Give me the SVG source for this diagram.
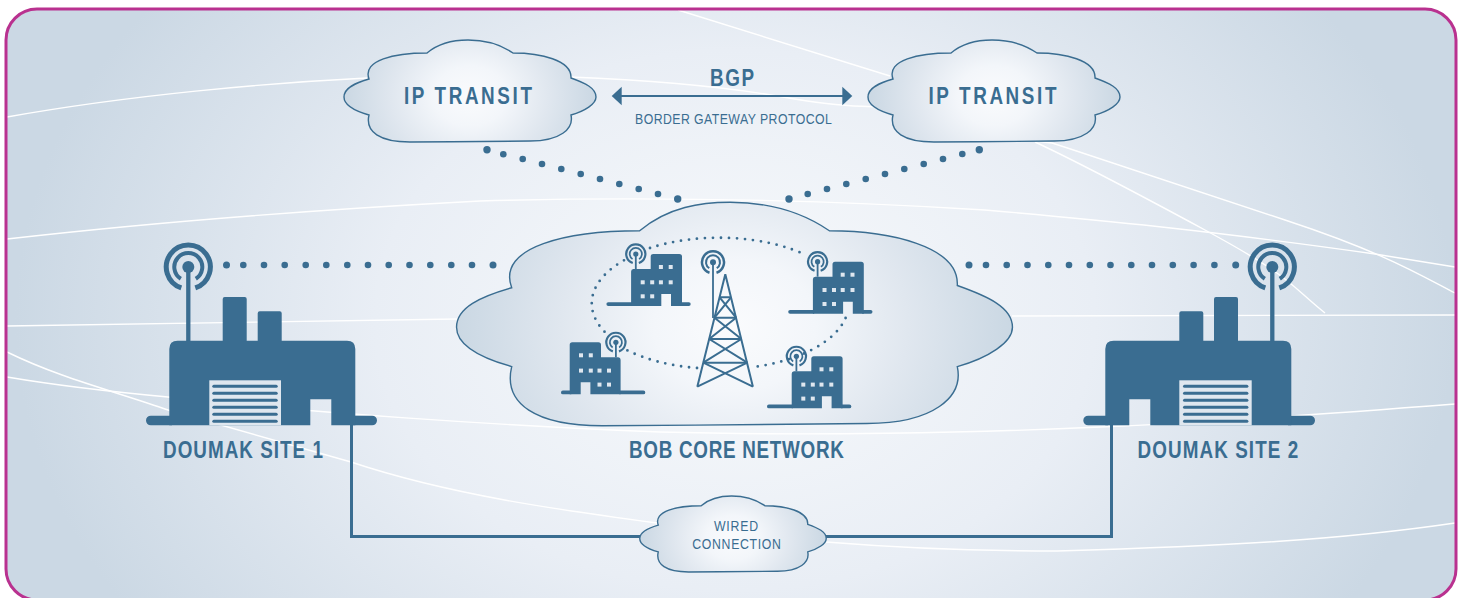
<svg xmlns="http://www.w3.org/2000/svg" width="1465" height="598" viewBox="0 0 1465 598">
<style>
.ln{fill:none;stroke:#fff;stroke-width:1.4}
.cl{fill:url(#cg)}
.b{fill:#3a6d91}
.l{fill:#dfe7ef}
.d{fill:#3a6d91}
.t{font-family:"Liberation Sans",Arial,sans-serif;fill:#3a6d91}
.h{font-size:23px;font-weight:700}
.s{font-size:15px}
.w{fill:none;stroke:#3a6d91;stroke-width:3}
.tw{fill:none;stroke:#3a6d91;stroke-width:2;stroke-linejoin:miter}
.dots{fill:none;stroke:#3a6d91;stroke-width:2.8;stroke-linecap:round;stroke-dasharray:0 8}
</style>
<defs>
<radialGradient id="bg" gradientUnits="userSpaceOnUse" cx="0" cy="0" r="1" gradientTransform="translate(735 320) scale(720 540)">
<stop offset="0" stop-color="#f8fafc"/><stop offset=".5" stop-color="#e9eef5"/><stop offset="1" stop-color="#cbd8e4"/>
</radialGradient>
<radialGradient id="cg" cx="0" cy="0" r="1" gradientTransform="translate(.5 .55) scale(.52 1.05)">
<stop offset="0" stop-color="#fafbfd"/><stop offset=".28" stop-color="#f3f6fa"/><stop offset=".6" stop-color="#e0e7ef"/><stop offset="1" stop-color="#c8d6e2"/>
</radialGradient>
<path id="cloud" vector-effect="non-scaling-stroke" stroke="#3a6d91" stroke-width="1.4" d="M-43 -38C-30 -49 -15 -51 -2 -51C15 -51 30 -47 43 -38C70 -38 102 -31 101 -13C115 -8 126 -3 126 6C126 13 115 20 101 24C104 38 90 50 60 50C30 50 -20 51 -60 51C-90 51 -105 41 -101 24C-115 20 -126 14 -126 6C-126 -3 -115 -8 -101 -12C-108 -31 -75 -38 -43 -38Z"/>
<g id="radio">
<path d="M-7 20.900A22 22 0 1 1 7 20.900" fill="none" stroke="#3a6d91" stroke-width="5"/>
<path d="M-7.500 11.800A14 14 0 1 1 7.500 11.800" fill="none" stroke="#3a6d91" stroke-width="4"/>
<circle r="6" class="b"/>
</g>
<g id="bld">
<path class="b" d="M1.900 -3.800H26V0H1.900A1.900 1.900 0 0 1 1.900 -3.800Z"/>
<path class="b" d="M74 -3.800H82.400A1.900 1.900 0 0 1 82.400 0H74Z"/>
<path class="b" d="M24.700 0V-34.500Q24.700 -37 27 -37H44.300V-49.500Q44.300 -52 46.800 -52H73Q75.600 -52 75.600 -49.500V0H64.600V-12H54.900V0Z"/>
<g class="l">
<rect x="52.500" y="-41" width="4" height="4"/><rect x="62.300" y="-41" width="4" height="4"/>
<rect x="34.300" y="-25.700" width="4" height="4"/><rect x="43.800" y="-25.700" width="4" height="4"/><rect x="52.500" y="-25.700" width="4" height="4"/><rect x="62.300" y="-25.700" width="4" height="4"/>
<rect x="34.300" y="-11.700" width="4" height="4"/><rect x="43.800" y="-11.700" width="4" height="4"/>
</g>
<path d="M29.400 -52V-37" stroke="#3a6d91" stroke-width="1.800" fill="none"/>
<use href="#radio" transform="translate(29.400 -52) scale(.435)"/>
</g>
<g id="slats" class="b">
<rect x="0" y="0" width="65.400" height="3" rx="1.500"/><rect x="0" y="7" width="65.400" height="3" rx="1.500"/><rect x="0" y="14" width="65.400" height="3" rx="1.500"/><rect x="0" y="21" width="65.400" height="3" rx="1.500"/><rect x="0" y="28" width="65.400" height="3" rx="1.500"/><rect x="0" y="35" width="65.400" height="3" rx="1.500"/>
</g>
</defs>
<rect width="1465" height="598" fill="#fff"/>
<rect x="6" y="9" width="1450" height="591" rx="31" fill="url(#bg)"/>
<g id="background-lines">
<path class="ln" d="M7 117C130 95 267 83 367 78"/>
<path class="ln" d="M570 77C620 79 710 84 783 97S860 104 883 108"/>
<path class="ln" d="M678 10L890 76"/>
<path class="ln" d="M1035 141L1052 143C1120 165 1185 187 1285 220S1420 275 1455 293"/>
<path class="ln" d="M1035 142C1080 163 1118 183 1205 230S1290 285 1325 313"/>
<path class="ln" d="M7 239C200 217 367 207 480 201C620 197 793 198 985 210C1100 220 1205 230 1375 254L1455 267"/>
<path class="ln" d="M7 326L457 319"/>
<path class="ln" d="M1012 316L1455 315"/>
<path class="ln" d="M7 352C60 378 114 391 168 410L351 462C450 495 560 510 657 523"/>
<path class="ln" d="M826 542C900 548 980 551 1057 551C1226 546 1340 540 1455 523"/>
<path class="ln" d="M7 377C60 386 114 392 168 397C300 412 505 426 660 432C805 436 973 433 1100 427C1200 423 1314 415 1455 404"/>
</g>
<rect x="6" y="9" width="1450" height="591" rx="31" fill="none" stroke="#b9318f" stroke-width="3"/>
<g id="connectors">
<path class="w" d="M351.500 425V536.500H640"/>
<path class="w" d="M826 536.500H1111.500V425"/>
<path d="M621 96H843" stroke="#3a6d91" stroke-width="2" fill="none"/>
<path class="b" d="M611.700 96L621.700 86.700V105.300Z"/>
<path class="b" d="M852.300 96L842.300 86.700V105.300Z"/>
<g class="d">
<circle cx="226.500" cy="265" r="3.500"/><circle cx="243.300" cy="265" r="3.300"/><circle cx="264" cy="265" r="3.300"/><circle cx="284.700" cy="265" r="3.300"/><circle cx="305.700" cy="265" r="3.300"/><circle cx="326.300" cy="265" r="3.300"/><circle cx="347.300" cy="265" r="3.300"/><circle cx="368" cy="265" r="3.300"/><circle cx="388.700" cy="265" r="3.300"/><circle cx="409.500" cy="265" r="3.300"/><circle cx="430.300" cy="265" r="3.300"/><circle cx="451.300" cy="265" r="3.300"/><circle cx="472" cy="265" r="3.300"/><circle cx="493" cy="265" r="3.500"/>
<circle cx="969" cy="265" r="3.500"/><circle cx="986" cy="265" r="3.300"/><circle cx="1006.700" cy="265" r="3.300"/><circle cx="1027.500" cy="265" r="3.300"/><circle cx="1048.300" cy="265" r="3.300"/><circle cx="1069" cy="265" r="3.300"/><circle cx="1089.800" cy="265" r="3.300"/><circle cx="1110.500" cy="265" r="3.300"/><circle cx="1131.300" cy="265" r="3.300"/><circle cx="1152" cy="265" r="3.300"/><circle cx="1172.800" cy="265" r="3.300"/><circle cx="1193.600" cy="265" r="3.300"/><circle cx="1214.400" cy="265" r="3.300"/><circle cx="1235.700" cy="265" r="3.500"/>
<circle cx="487" cy="149.700" r="3.700"/><circle cx="503.300" cy="154.300" r="3.300"/><circle cx="522.700" cy="159" r="3.300"/><circle cx="542" cy="164" r="3.300"/><circle cx="561.300" cy="169" r="3.300"/><circle cx="580.700" cy="174" r="3.300"/><circle cx="600" cy="179" r="3.300"/><circle cx="619.300" cy="184" r="3.300"/><circle cx="638.700" cy="189" r="3.300"/><circle cx="658" cy="194" r="3.300"/><circle cx="677.700" cy="199" r="3.700"/>
<circle cx="789" cy="199" r="3.700"/><circle cx="807.700" cy="194" r="3.300"/><circle cx="827" cy="189" r="3.300"/><circle cx="846.300" cy="184" r="3.300"/><circle cx="865.700" cy="179" r="3.300"/><circle cx="885" cy="174" r="3.300"/><circle cx="904.300" cy="169" r="3.300"/><circle cx="923.700" cy="164" r="3.300"/><circle cx="943" cy="159" r="3.300"/><circle cx="962.300" cy="154" r="3.300"/><circle cx="979.300" cy="149.700" r="3.700"/>
</g>
</g>
<g id="cloud-transit-1"><use href="#cloud" class="cl" transform="translate(470 91)"/><text class="t h" transform="translate(404 104) scale(.82 1)" textLength="156">IP TRANSIT</text></g>
<g id="cloud-transit-2"><use href="#cloud" class="cl" transform="translate(928.500 104) translate(65.500 -13)"/><text class="t h" transform="translate(928.500 104) scale(.82 1)" textLength="156">IP TRANSIT</text></g>
<g id="bgp-label"><text class="t h" transform="translate(710 86) scale(.82 1)" textLength="53.700">BGP</text><text class="t s" transform="translate(635 124.300) scale(.82 1)" textLength="240">BORDER GATEWAY PROTOCOL</text></g>
<g id="cloud-core">
<use href="#cloud" class="cl" transform="translate(734.500 314) scale(2.206 2.190)"/>
<path class="dots" d="M650 248A128 65 0 0 1 806 255"/>
<path class="dots" d="M845.600 318A128 65 0 0 1 753.600 367"/>
<path class="dots" d="M697 368A128 65 0 0 1 624.500 349"/>
<path class="dots" d="M604.500 331.700A128 65 0 0 1 624.500 260"/>
<g id="tower">
<path class="tw" d="M697.300 386.700L725.300 274.300L752.900 386.700"/>
<path class="tw" d="M719.600 297.300H731M714.500 317.700H736.100M709.200 339H741.400M703.300 362.700H747.300"/>
<path class="tw" d="M719.600 297.300L736.100 317.700M731 297.300L714.500 317.700M714.500 317.700L741.400 339M736.100 317.700L709.200 339M709.200 339L747.300 362.700M741.400 339L703.300 362.700M703.300 362.700L752.900 386.700M747.300 362.700L697.300 386.700"/>
<path d="M713 262V318" stroke="#3a6d91" stroke-width="1.800" fill="none"/>
<use href="#radio" transform="translate(713 262.300) scale(.5)"/>
</g>
<use id="bld-1" href="#bld" transform="translate(606.400 306)"/>
<use id="bld-2" href="#bld" transform="translate(788.200 313.700)"/>
<use id="bld-3" href="#bld" transform="translate(767 408.300)"/>
<use id="bld-4" href="#bld" transform="translate(645.300 394.300) scale(-1 1)"/>
<text class="t h" transform="translate(629 457.500) scale(.82 1)" textLength="262">BOB CORE NETWORK</text>
</g>
<g id="site-1">
<path d="M188.300 267V342" stroke="#3a6d91" stroke-width="4.300" fill="none"/>
<use href="#radio" transform="translate(188.300 267)"/>
<path class="b" d="M150.800 415.700H172V425.300H150.800A4.800 4.800 0 0 1 150.800 415.700Z"/>
<path class="b" d="M352 415.700H372.200A4.800 4.800 0 0 1 372.200 425.300H352Z"/>
<path class="b" d="M169.300 425.300V349Q169.300 340.700 177.600 340.700H222.700V299Q222.700 297 224.700 297H244.700Q246.700 297 246.700 299V340.700H257.700V313.300Q257.700 311.300 259.700 311.300H279.700Q281.700 311.300 281.700 313.300V340.700H347Q355.300 340.700 355.300 349V425.300H331.300V399.300H310.300V425.300Z"/>
<rect x="209.300" y="380.300" width="71.700" height="45" class="l"/>
<use href="#slats" transform="translate(212.300 384.800)"/>
<text class="t h" transform="translate(163 458.300) scale(.82 1)" textLength="195">DOUMAK SITE 1</text>
</g>
<g id="site-2">
<path d="M1272.300 267V342" stroke="#3a6d91" stroke-width="4.300" fill="none"/>
<use href="#radio" transform="translate(1272.300 267)"/>
<path class="b" d="M1088.100 415.700H1108V425.300H1088.100A4.800 4.800 0 0 1 1088.100 415.700Z"/>
<path class="b" d="M1288 415.700H1310.200A4.800 4.800 0 0 1 1310.200 425.300H1288Z"/>
<path class="b" d="M1105.300 425.300V349Q1105.300 340.700 1113.600 340.700H1179.300V313.300Q1179.300 311.300 1181.300 311.300H1201.300Q1203.300 311.300 1203.300 313.300V340.700H1214V299Q1214 297 1216 297H1236Q1238 297 1238 299V340.700H1283Q1291.300 340.700 1291.300 349V425.300H1150.300V399.300H1129.300V425.300Z"/>
<rect x="1179.300" y="380.300" width="72.400" height="45" class="l"/>
<use href="#slats" transform="translate(1183 384.800)"/>
<text class="t h" transform="translate(1137.500 458.300) scale(.82 1)" textLength="196">DOUMAK SITE 2</text>
</g>
<g id="cloud-wired">
<use href="#cloud" class="cl" transform="translate(733 534) scale(.740 .745)"/>
<text class="t s" transform="translate(714 531) scale(.82 1)" textLength="53.700">WIRED</text>
<text class="t s" transform="translate(692.300 549) scale(.82 1)" textLength="108">CONNECTION</text>
</g>
</svg>
